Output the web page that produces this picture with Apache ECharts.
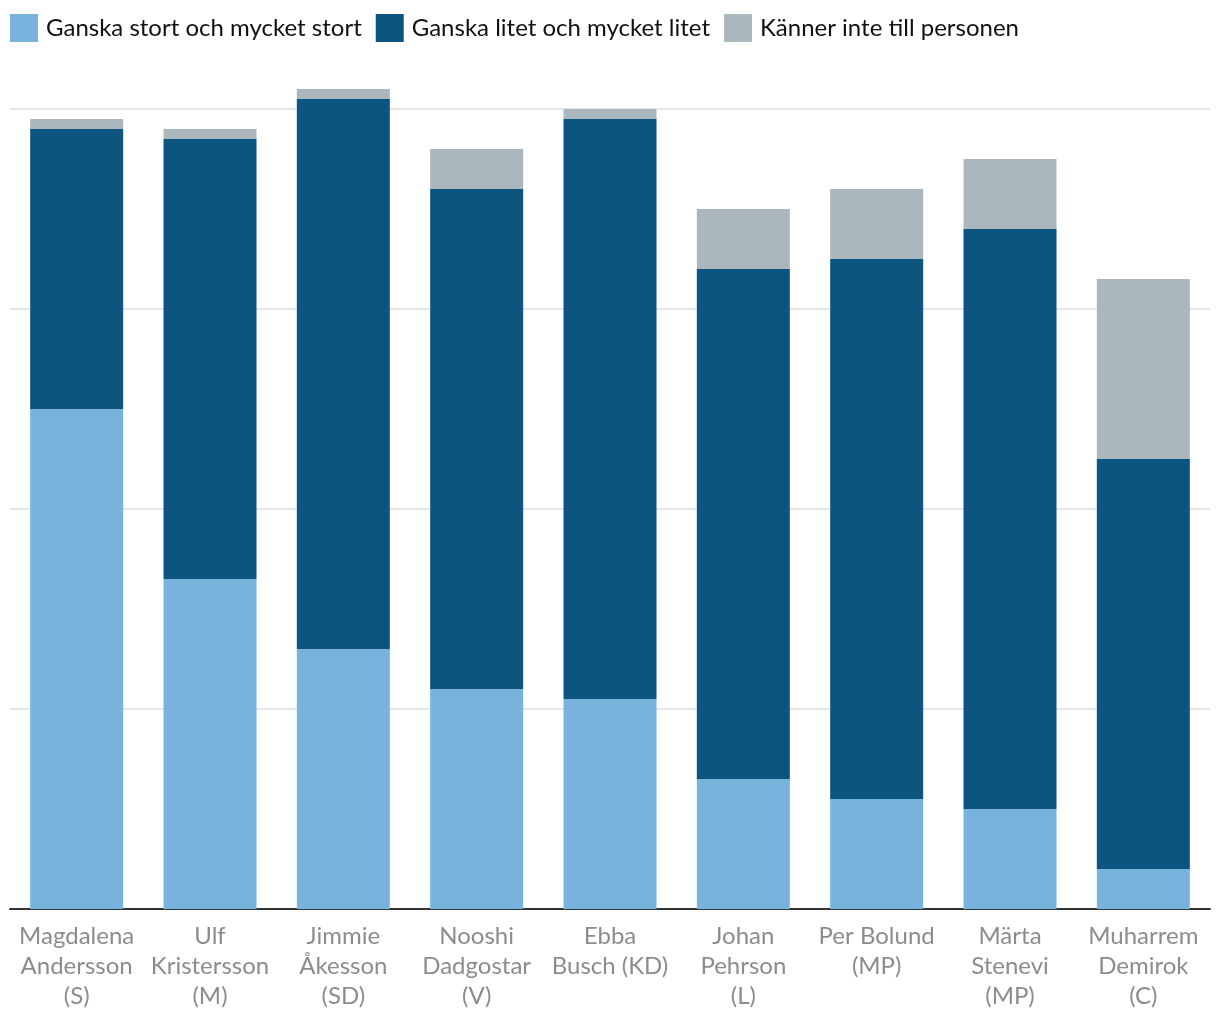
<!DOCTYPE html>
<html><head><meta charset="utf-8">
<script src="https://cdn.jsdelivr.net/npm/echarts@6/dist/echarts.min.js"></script>
<style>html,body{margin:0;padding:0;background:#fff}#c{width:1220px;height:1020px}</style>
</head><body><div id="c"></div>
<script>
const categories = ["Magdalena\nAndersson\n(S)","Ulf\nKristersson\n(M)","Jimmie\nÅkesson\n(SD)","Nooshi\nDadgostar\n(V)","Ebba\nBusch (KD)","Johan\nPehrson\n(L)","Per Bolund\n(MP)","Märta\nStenevi\n(MP)","Muharrem\nDemirok\n(C)"];
const seriesNames = ["Ganska stort och mycket stort","Ganska litet och mycket litet","Känner inte till personen"];
const stort = [50,33,26,22,21,13,11,10,4];
const litet = [28,44,55,50,58,51,54,58,41];
const kanner = [1,1,1,4,1,6,7,7,18];
const colors = ["#77b3da","#0d5581","#aab8be"];
const chart = echarts.init(document.getElementById('c'));
const font = "Lato, 'Open Sans', sans-serif";
chart.setOption({
  animation:false,
  textStyle:{fontFamily:font},
  legend:{left:5,top:9,itemWidth:28,itemHeight:28,itemGap:14,icon:'rect',
    textStyle:{fontSize:24,color:'#111',fontFamily:font,padding:[0,0,0,3]},
    data:seriesNames},
  grid:{left:10,right:10,top:59,bottom:111,containLabel:false},
  xAxis:{type:'category',data:categories,
    axisLine:{lineStyle:{color:'#333',width:2}},axisTick:{show:false},
    axisLabel:{color:'#8c8c8c',fontSize:24,lineHeight:30,margin:12,interval:0,fontFamily:font}},
  yAxis:{type:'value',min:0,max:85,interval:20,axisLabel:{show:false},axisLine:{show:false},axisTick:{show:false},
    splitLine:{show:true,showMinLine:false,showMaxLine:false,lineStyle:{color:'#e6e6e6',width:2}}},
  series:[
    {name:seriesNames[0],type:'bar',stack:'a',data:stort,barWidth:93,itemStyle:{color:colors[0]}},
    {name:seriesNames[1],type:'bar',stack:'a',data:litet,barWidth:93,itemStyle:{color:colors[1]}},
    {name:seriesNames[2],type:'bar',stack:'a',data:kanner,barWidth:93,itemStyle:{color:colors[2]}}
  ]
});
</script></body></html>
